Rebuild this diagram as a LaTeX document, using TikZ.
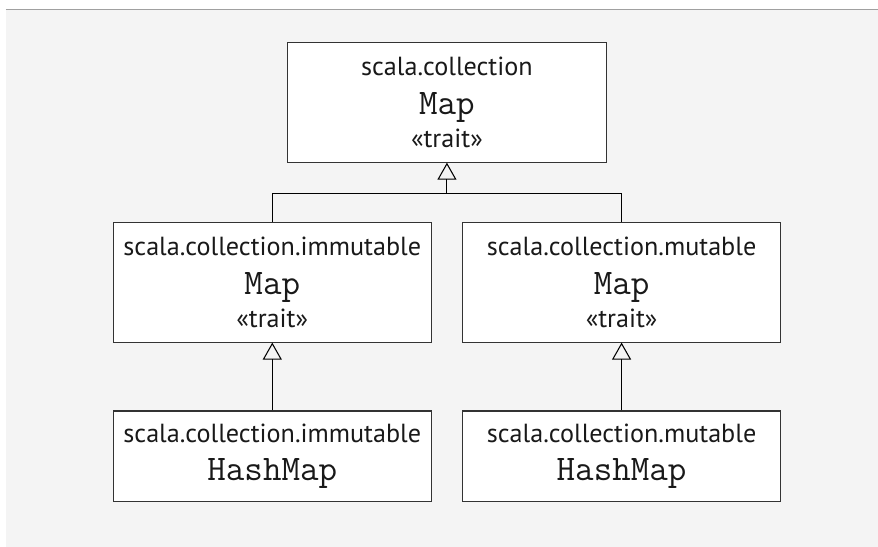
\documentclass[tikz,border=0pt]{standalone}
\usepackage{fontspec}
\setmainfont{PT Sans}
\usepackage{tikz}
\usetikzlibrary{positioning}
\usetikzlibrary{arrows.meta, backgrounds}
\definecolor{panel}{HTML}{F4F4F4}
\definecolor{rule}{HTML}{A0A0A0}
\newcommand{\clsname}[1]{{\fontsize{20.5pt}{20.5pt}\selectfont\ttfamily #1}}
\tikzset{%
  block/.style = {draw=black!80, semithick, rectangle, fill=white, align=center,
    minimum width=6.37cm, minimum height=2.39cm, inner sep=0pt,
    text=black!90, font=\fontsize{14.9pt}{18.7pt}\selectfont},
  leaf/.style  = {block, minimum height=1.81cm} % no trait line
}

\begin{document}
\begin{tikzpicture}[auto, semithick, node distance=3.6cm,
  >={Triangle[open, length=0.34cm, width=0.38cm]}]

  \draw node at (0,0) [block] (map) {scala.collection\\[3.2pt] \clsname{Map}\\ «trait»};
  \draw node [block, below of=map, xshift=-3.495cm] (imap) {scala.collection.immutable\\[3.2pt] \clsname{Map}\\ «trait»};
  \draw node [block, right of=imap, node distance=6.99cm] (mmap) {scala.collection.mutable\\[3.2pt] \clsname{Map}\\ «trait»};
  \draw node [leaf, below of=imap, node distance=3.48cm] (ihash) {scala.collection.immutable\\[3.2pt] \clsname{HashMap}};
  \draw node [leaf, below of=mmap, node distance=3.48cm] (mhash) {scala.collection.mutable\\[3.2pt] \clsname{HashMap}};

  \coordinate (join) at ([yshift=-0.61cm]map.south);
  \draw[->] (imap) |- (join) -- (map);
  \draw (mmap) |- (join);
  \draw[->] (ihash) -- (imap);
  \draw[->] (mhash) -- (mmap);

  \begin{scope}[on background layer]
    \fill[white] (-8.944,2.05) rectangle (8.616,-8.89);
    \fill[panel] (-8.824,1.86) rectangle (8.616,-8.89);
    \draw[rule, line width=0.02cm] (-8.824,1.86) -- (8.616,1.86);
  \end{scope}
\end{tikzpicture}
\end{document}
